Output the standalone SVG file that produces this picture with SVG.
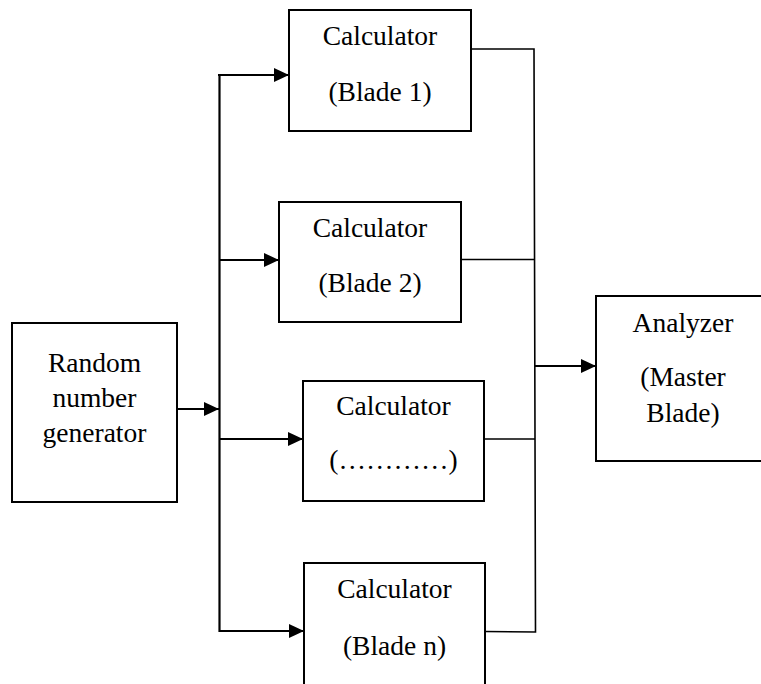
<svg xmlns="http://www.w3.org/2000/svg" width="761" height="684" viewBox="0 0 761 684">
<style>
.box{fill:#fff;stroke:#000;stroke-width:2}
.t{font-family:"Liberation Serif","Times New Roman","DejaVu Serif",serif;font-size:27.5px;fill:#000;text-anchor:middle}
.arr{fill:none;stroke:#000;stroke-width:2.2}
.ln{fill:none;stroke:#000;stroke-width:1.6}
</style>
<defs>
<marker id="ah" markerUnits="userSpaceOnUse" markerWidth="16" markerHeight="14" refX="15" refY="7" orient="auto">
<path d="M0,0 L15,7 L0,14 Z" fill="#000"/>
</marker>
</defs>
<g id="connectors">
<line class="arr" x1="219.5" y1="74" x2="219.5" y2="632"/>
<line class="arr" x1="177" y1="409" x2="219" y2="409" marker-end="url(#ah)"/>
<line class="arr" x1="218" y1="75" x2="289" y2="75" marker-end="url(#ah)"/>
<line class="arr" x1="219" y1="260" x2="279" y2="260" marker-end="url(#ah)"/>
<line class="arr" x1="219" y1="439" x2="303" y2="439" marker-end="url(#ah)"/>
<line class="arr" x1="219" y1="631" x2="304" y2="631" marker-end="url(#ah)"/>
<polyline class="ln" points="471,49 534,49 535.5,632 485,631.5"/>
<line class="ln" x1="461" y1="259.5" x2="535" y2="259.5"/>
<line class="ln" x1="484" y1="439" x2="535" y2="439"/>
<line class="arr" x1="535" y1="366" x2="596" y2="366" marker-end="url(#ah)"/>
</g>
<g id="rng">
<rect class="box" x="12" y="323" width="165" height="179"/>
<text class="t" x="94.5" y="372">Random</text>
<text class="t" x="94.5" y="407">number</text>
<text class="t" x="94.5" y="442">generator</text>
</g>
<g id="blade1">
<rect class="box" x="289" y="10" width="182" height="121"/>
<text class="t" x="380" y="45">Calculator</text>
<text class="t" x="380" y="101">(Blade 1)</text>
</g>
<g id="blade2">
<rect class="box" x="279" y="202" width="182" height="120"/>
<text class="t" x="370" y="237">Calculator</text>
<text class="t" x="370" y="292">(Blade 2)</text>
</g>
<g id="blade3">
<rect class="box" x="303" y="381" width="181" height="120"/>
<text class="t" x="393.5" y="415">Calculator</text>
<text class="t" x="393.5" y="469">(…………)</text>
</g>
<g id="bladen">
<rect class="box" x="304" y="563" width="181" height="130"/>
<text class="t" x="394.5" y="598">Calculator</text>
<text class="t" x="394.5" y="655">(Blade n)</text>
</g>
<g id="analyzer">
<rect class="box" x="596" y="296" width="175" height="165"/>
<text class="t" x="683" y="332">Analyzer</text>
<text class="t" x="683" y="386">(Master</text>
<text class="t" x="683" y="422">Blade)</text>
</g>
</svg>
